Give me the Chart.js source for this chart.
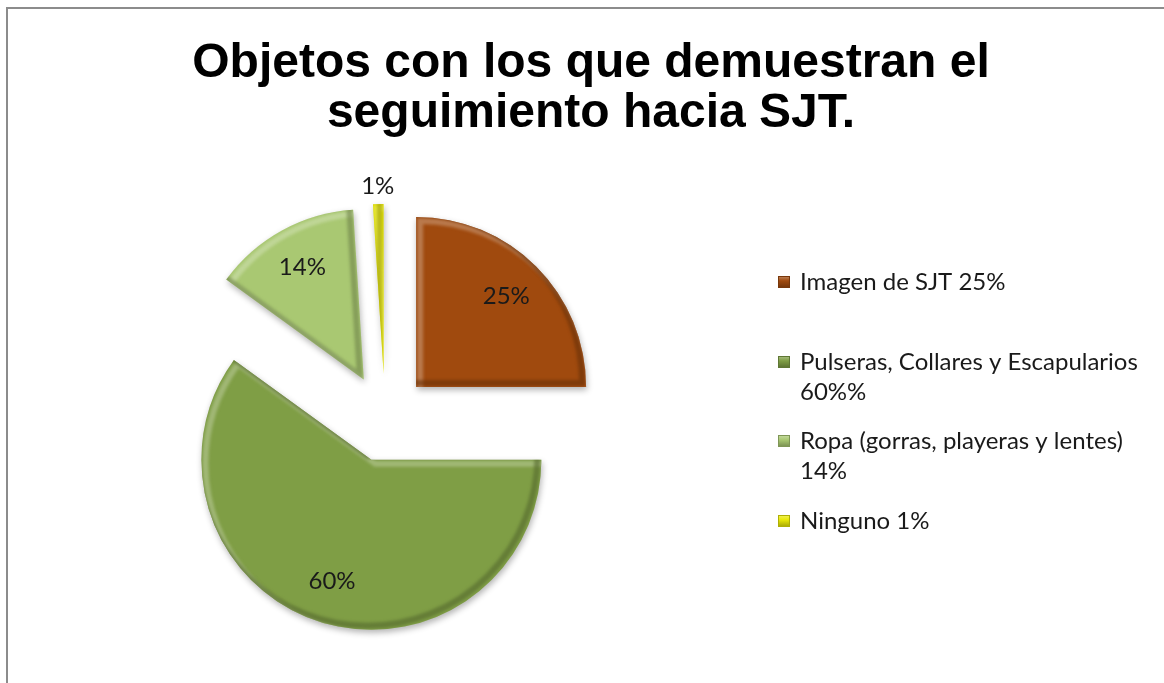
<!DOCTYPE html>
<html>
<head>
<meta charset="utf-8">
<script src="https://cdn.jsdelivr.net/npm/chart.js@4/dist/chart.umd.min.js"></script>
<style>
  html, body { margin: 0; padding: 0; background: #ffffff; overflow: hidden; }
  #wrap { position: relative; width: 1164px; height: 683px; }
  #frame { position: absolute; left: 6px; top: 7px; width: 1200px; height: 720px; border: 2px solid #8c8c8c; box-sizing: border-box; pointer-events: none; }
  canvas { position: absolute; left: 0; top: 0; }
</style>
</head>
<body>
<div id="wrap">
  <canvas id="c" width="1164" height="683"></canvas>
  <div id="frame"></div>
</div>
<script>
// ---- data ----
const titleLines = ["Objetos con los que demuestran el", "seguimiento hacia SJT."];
const categories = ["Imagen de SJT 25%", "Pulseras, Collares y Escapularios 60%%", "Ropa (gorras, playeras y lentes) 14%", "Ninguno 1%"];
const legendLines = [["Imagen de SJT 25%"], ["Pulseras, Collares y Escapularios", "60%%"], ["Ropa (gorras, playeras y lentes)", "14%"], ["Ninguno 1%"]];
const values = [25, 60, 14, 1];
const sliceLabels = ["25%", "60%", "14%", "1%"];
const sliceColors = ["#a04a0e", "#7f9e45", "#a9c872", "#e9e907"];

function mix(hex, target, t) {
  const n = parseInt(hex.slice(1), 16);
  const r = (n >> 16) & 255, g = (n >> 8) & 255, b = n & 255;
  const m = c => Math.round(c + (target - c) * t);
  return 'rgb(' + m(r) + ',' + m(g) + ',' + m(b) + ')';
}

// ---- custom arc with bevel look (geometry from Chart.js arc element) ----
class BevelArc extends Chart.ArcElement {
  draw(ctx) {
    const {x, y, startAngle, endAngle, outerRadius} = this;
    const o = this.options;
    const off = o.offset || 0;
    const base = o.backgroundColor;
    const mid = (startAngle + endAngle) / 2;
    const cx = x + Math.cos(mid) * off;
    const cy = y + Math.sin(mid) * off;
    const path = (dx, dy) => {
      ctx.beginPath();
      ctx.moveTo(cx + dx, cy + dy);
      ctx.arc(cx + dx, cy + dy, outerRadius, startAngle, endAngle);
      ctx.closePath();
    };
    ctx.save();
    path(0, 0);
    ctx.shadowColor = 'rgba(0,0,0,0.3)';
    ctx.shadowBlur = 6;
    ctx.shadowOffsetX = 1;
    ctx.shadowOffsetY = 3;
    ctx.fillStyle = base;
    ctx.fill();
    ctx.shadowColor = 'transparent';
    ctx.clip();
    ctx.filter = 'blur(1.5px)';
    ctx.lineWidth = 6;
    ctx.strokeStyle = mix(base, 255, 0.35);
    ctx.globalAlpha = 0.75;
    path(4, 4); ctx.stroke();
    ctx.strokeStyle = mix(base, 0, 0.35);
    ctx.globalAlpha = 0.6;
    path(-4, -4); ctx.stroke();
    ctx.restore();
  }
}
BevelArc.id = 'bevelArc';
BevelArc.defaults = Object.assign({}, Chart.ArcElement.defaults);
Chart.register(BevelArc);

class BevelPie extends Chart.PieController {}
BevelPie.id = 'bevelPie';
BevelPie.defaults = Object.assign({}, Chart.PieController.defaults, {dataElementType: 'bevelArc'});
Chart.register(BevelPie);

// ---- text plugin: title, slice labels, legend ----
const textPlugin = {
  id: 'texts',
  afterDatasetsDraw(chart) {
    const ctx = chart.ctx;
    const meta = chart.getDatasetMeta(0);
    ctx.save();
    ctx.fillStyle = '#1a1a1a';
    ctx.font = '24px Lato';
    ctx.textAlign = 'center';
    ctx.textBaseline = 'middle';
    meta.data.forEach((arc, i) => {
      const mid = (arc.startAngle + arc.endAngle) / 2;
      const off = arc.options.offset || 0;
      const cx = arc.x + Math.cos(mid) * off;
      const cy = arc.y + Math.sin(mid) * off;
      const small = values[i] < 5;
      const d = small ? arc.outerRadius + 18 : arc.outerRadius * 0.75;
      ctx.fillText(sliceLabels[i], cx + Math.cos(mid) * d, cy + Math.sin(mid) * d);
    });
    ctx.restore();
  },
  afterDraw(chart) {
    const ctx = chart.ctx;
    ctx.save();
    // title
    ctx.fillStyle = '#000';
    ctx.font = 'bold 48px "Liberation Sans", Arial, sans-serif';
    ctx.textAlign = 'center';
    ctx.textBaseline = 'alphabetic';
    ctx.fillText(titleLines[0], 591, 77);
    ctx.fillText(titleLines[1], 591, 127);
    // legend
    const tops = [282, 362, 441, 521];
    ctx.font = '24px Lato';
    ctx.textAlign = 'left';
    ctx.textBaseline = 'middle';
    legendLines.forEach((lines, i) => {
      const y = tops[i];
      const mx = 778, my = y - 6, s = 12;
      const base = sliceColors[i];
      const g = ctx.createLinearGradient(0, my, 0, my + s);
      g.addColorStop(0, mix(base, 255, 0.35));
      g.addColorStop(0.4, base);
      g.addColorStop(1, mix(base, 0, 0.3));
      ctx.fillStyle = g;
      ctx.fillRect(mx, my, s, s);
      ctx.strokeStyle = mix(base, 0, 0.25);
      ctx.lineWidth = 1;
      ctx.strokeRect(mx + 0.5, my + 0.5, s - 1, s - 1);
      ctx.fillStyle = '#1a1a1a';
      lines.forEach((t, j) => ctx.fillText(t, 800, y + j * 30));
    });
    ctx.restore();
  }
};

new Chart(document.getElementById('c'), {
  type: 'bevelPie',
  data: {
    labels: categories,
    datasets: [{
      data: values,
      backgroundColor: sliceColors,
      borderWidth: 0,
      offset: 44
    }]
  },
  options: {
    responsive: false,
    animation: false,
    radius: 170,
    layout: { padding: { left: 0, right: 394, top: 160, bottom: 7 } },
    plugins: { legend: { display: false }, title: { display: false }, tooltip: { enabled: false } }
  },
  plugins: [textPlugin]
});
</script>
</body>
</html>
